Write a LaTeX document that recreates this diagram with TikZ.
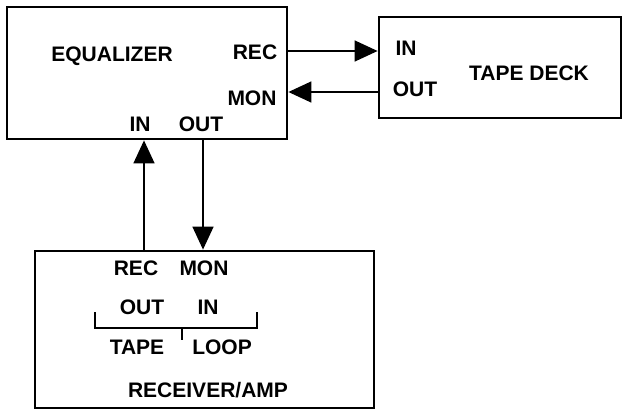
\documentclass[tikz,border=0pt]{standalone}
\usepackage{fontspec}
\setmainfont{Liberation Sans}
\usetikzlibrary{arrows.meta}
\begin{document}
\begin{tikzpicture}[x=1pt,y=-1pt,
  box/.style={draw, line width=2.8pt, inner sep=0pt},
  lbl/.style={font=\fontsize{21}{23}\selectfont\bfseries, inner sep=0pt, anchor=center},
  wire/.style={line width=1.5pt},
  arr/.style={line width=1.5pt, -{Triangle[length=23pt,width=21pt]}},
  brk/.style={line width=1.6pt}]
\useasboundingbox (0,0) rectangle (623,412);
% boxes
\node[box, minimum width=280pt, minimum height=132pt] (eq) at (147,73) {};
\node[box, minimum width=242pt, minimum height=101pt] (td) at (500,67.5) {};
\node[box, minimum width=339pt, minimum height=157pt] (rx) at (204.5,329.5) {};
% equalizer labels
\node[lbl] (eqname) at (112,56) {EQUALIZER};
\node[lbl] (eqrec) at (255,52) {REC};
\node[lbl] (eqmon) at (252,98) {MON};
\node[lbl] (eqin) at (140,124) {IN};
\node[lbl] (eqout) at (201,124) {OUT};
% tape deck labels
\node[lbl] (tdin) at (406,48) {IN};
\node[lbl] (tdout) at (415,89) {OUT};
\node[lbl] (tdname) at (529,73) {TAPE DECK};
% receiver labels
\node[lbl] (rxrec) at (136,268) {REC};
\node[lbl] (rxmon) at (204,268) {MON};
\node[lbl] (rxout) at (142,307) {OUT};
\node[lbl] (rxin) at (208,307) {IN};
\node[lbl] (rxtape) at (137,347) {TAPE};
\node[lbl] (rxloop) at (222,347) {LOOP};
\node[lbl] (rxname) at (208,390) {RECEIVER/AMP};
% connector guide coordinates
\coordinate (yrec) at (0,51);
\coordinate (ymon) at (0,92);
\coordinate (xin) at (144,0);
\coordinate (xout) at (203,0);
% connectors
\draw[arr] (eq.east |- yrec) -- (td.west |- yrec);
\draw[arr] (td.west |- ymon) -- (eq.east |- ymon);
\draw[arr] (rx.north -| xin) -- (eq.south -| xin);
\draw[arr] (eq.south -| xout) -- (rx.north -| xout);
% bracket
\coordinate (bl) at (95,328);
\coordinate (br) at (257,328);
\coordinate (bm) at (182,328);
\draw[brk] (95,312) -- (bl) -- (br) -- (257,312);
\draw[brk] (bm) -- (182,340);
\end{tikzpicture}
\end{document}
